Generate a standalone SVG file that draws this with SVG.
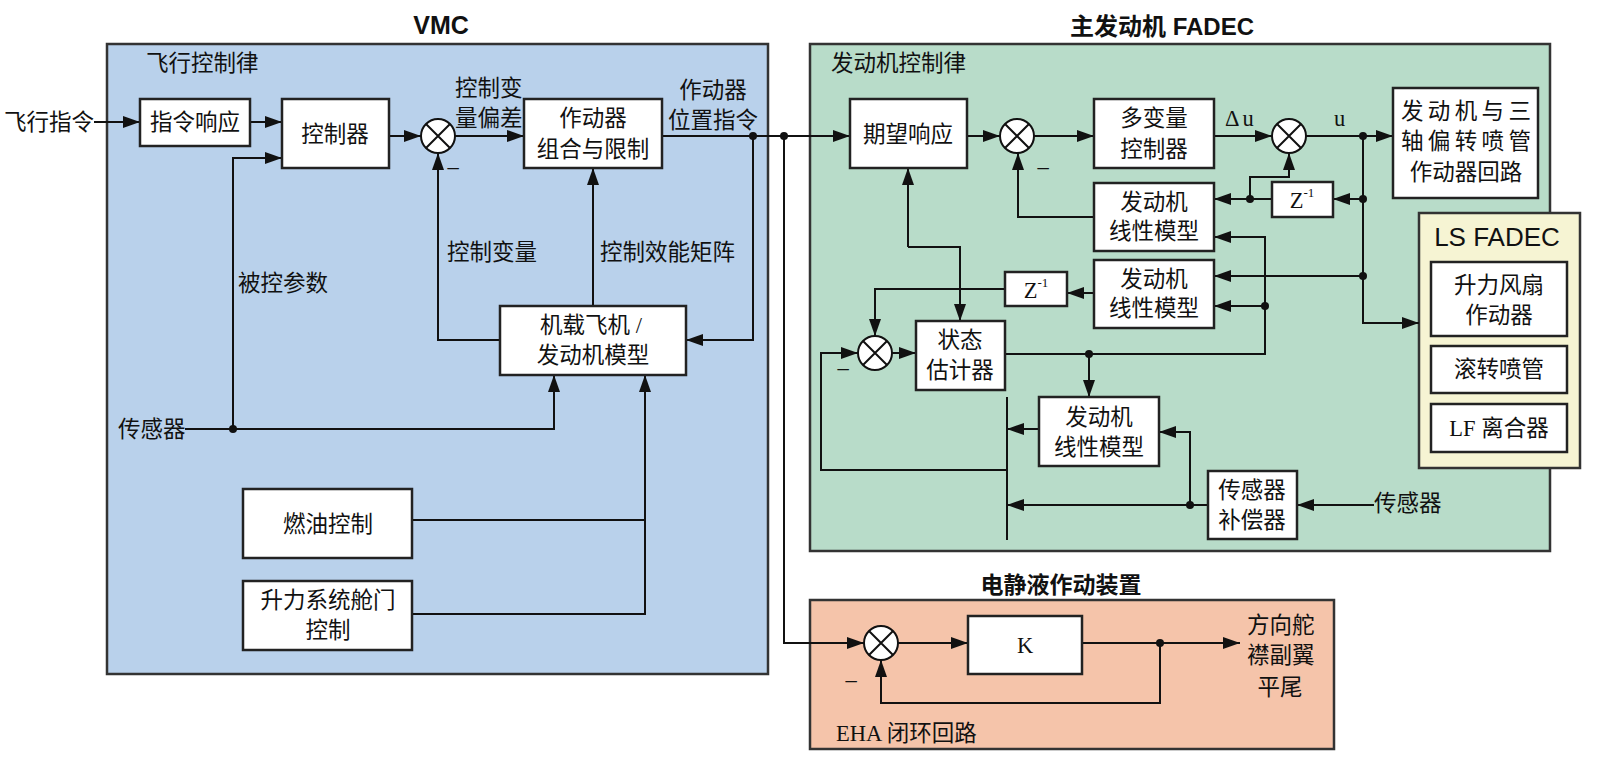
<svg xmlns="http://www.w3.org/2000/svg" width="1600" height="762" viewBox="0 0 1600 762">
<defs>
<marker id="a" viewBox="0 0 17 12" refX="17" refY="6" markerWidth="17" markerHeight="12" orient="auto" markerUnits="userSpaceOnUse"><path d="M0,0 L17,6 L0,12 z" fill="#111"/></marker>
<style>
.t{font-family:"Liberation Serif","Noto Sans CJK SC",serif;font-size:22.5px;fill:#111;dominant-baseline:central}
.m{text-anchor:middle}
.h{font-family:"Liberation Sans","Noto Sans CJK SC",sans-serif;font-weight:bold;fill:#111;text-anchor:middle;dominant-baseline:central}
.box{fill:#fff;stroke:#222;stroke-width:2.5}
.c{fill:none;stroke:#111;stroke-width:2}
.ar{fill:none;stroke:#111;stroke-width:2;marker-end:url(#a)}
.dot{fill:#111}
.sum{fill:#fff;stroke:#111;stroke-width:2}
</style>
</defs>
<rect width="1600" height="762" fill="#fff"/>

<!-- containers -->
<g id="vmc">
<rect x="107" y="44" width="661" height="630" fill="#b9d1eb" stroke="#333" stroke-width="2.5"/>
<text class="h" x="441" y="25" font-size="25">VMC</text>
<text class="t" x="146" y="63">飞行控制律</text>
</g>
<g id="fadec">
<rect x="810" y="44" width="740" height="507" fill="#b8dcc9" stroke="#333" stroke-width="2.5"/>
<text class="h" x="1162" y="26" font-size="24">主发动机 FADEC</text>
<text class="t" x="831" y="63">发动机控制律</text>
</g>
<g id="lsfadec">
<rect x="1419" y="213" width="161" height="255" fill="#f6f4d3" stroke="#333" stroke-width="2.5"/>
<text x="1497" y="237" font-family="Liberation Sans, sans-serif" font-size="26" fill="#111" text-anchor="middle" dominant-baseline="central">LS FADEC</text>
</g>
<g id="eha">
<rect x="810" y="600" width="524" height="149" fill="#f5c4aa" stroke="#333" stroke-width="2.5"/>
<text class="h" x="1061" y="585" font-size="23">电静液作动装置</text>
<text class="t" x="836" y="733">EHA 闭环回路</text>
</g>

<!-- connectors -->
<g id="connectors">
<path class="ar" d="M94,122 H140"/>
<path class="ar" d="M250,122 H282"/>
<path class="ar" d="M233,429 V158 H282"/>
<path class="ar" d="M389,136 H421"/>
<path class="ar" d="M455,136 H524"/>
<path class="ar" d="M662,136 H850"/>
<path class="ar" d="M753,136 V340 H686"/>
<path class="ar" d="M500,340 H438 V153"/>
<path class="ar" d="M593,306 V168"/>
<path class="ar" d="M185,429 H554 V375"/>
<path class="c" d="M412,520 H645"/>
<path class="ar" d="M412,614 H645 V375"/>
<path class="ar" d="M784,136 V643 H864"/>

<path class="ar" d="M967,136 H1000"/>
<path class="ar" d="M1034,136 H1094"/>
<path class="ar" d="M1214,136 H1272"/>
<path class="ar" d="M1306,136 H1393"/>
<path class="ar" d="M1363,136 V323 H1419"/>
<path class="ar" d="M1363,199 H1333"/>
<path class="ar" d="M1272,199 H1214"/>
<path class="ar" d="M1250,199 V177 H1289 V153"/>
<path class="ar" d="M1094,217 H1018 V153"/>
<path class="ar" d="M1363,276 H1214"/>
<path class="ar" d="M1005,354 H1265 V237 H1214"/>
<path class="ar" d="M1265,306 H1214"/>
<path class="ar" d="M1094,293 H1067"/>
<path class="ar" d="M1005,289 H875 V336"/>
<path class="ar" d="M892,353 H916"/>
<path class="ar" d="M908,247 V168"/>
<path class="ar" d="M908,247 H960 V321"/>
<path class="ar" d="M1089,354 V397"/>
<path class="ar" d="M1039,429 H1007"/>
<path class="c" d="M1007,397 V540"/>
<path class="ar" d="M1007,470 H821 V353 H858"/>
<path class="ar" d="M1208,505 H1007"/>
<path class="ar" d="M1190,505 V432 H1159"/>
<path class="ar" d="M1374,505 H1297"/>

<path class="ar" d="M898,643 H968"/>
<path class="ar" d="M1082,643 H1240"/>
<path class="ar" d="M1160,643 V703 H881 V660"/>

<circle class="dot" cx="753" cy="136" r="4"/>
<circle class="dot" cx="784" cy="136" r="4"/>
<circle class="dot" cx="233" cy="429" r="4"/>
<circle class="dot" cx="1363" cy="136" r="4"/>
<circle class="dot" cx="1363" cy="199" r="4"/>
<circle class="dot" cx="1363" cy="276" r="4"/>
<circle class="dot" cx="1250" cy="199" r="4"/>
<circle class="dot" cx="1265" cy="306" r="4"/>
<circle class="dot" cx="1089" cy="354" r="4"/>
<circle class="dot" cx="1190" cy="505" r="4"/>
<circle class="dot" cx="1160" cy="643" r="4"/>

<text class="t" x="94" y="122" text-anchor="end">飞行指令</text>
<text class="t" x="455" y="88">控制变</text>
<text class="t" x="455" y="118">量偏差</text>
<text class="t m" x="713" y="90">作动器</text>
<text class="t m" x="713" y="120">位置指令</text>
<text class="t" x="238" y="283">被控参数</text>
<text class="t" x="447" y="252">控制变量</text>
<text class="t" x="600" y="252">控制效能矩阵</text>
<text class="t" x="118" y="429">传感器</text>
<text class="t" x="1225" y="118" letter-spacing="3">Δu</text>
<text class="t" x="1334" y="118">u</text>
<text class="t" x="1374" y="503">传感器</text>
<text class="t" x="1247" y="625">方向舵</text>
<text class="t" x="1247" y="655">襟副翼</text>
<text class="t m" x="1280" y="687">平尾</text>
<text class="t m" x="453" y="166">–</text>
<text class="t m" x="1043" y="166">–</text>
<text class="t m" x="843" y="367">–</text>
<text class="t m" x="851" y="679">–</text>
</g>

<!-- sum junctions -->
<g id="sum1"><circle class="sum" cx="438" cy="136" r="17"/><path class="c" d="M426,124 L450,148 M450,124 L426,148"/></g>
<g id="sum2"><circle class="sum" cx="1017" cy="136" r="17"/><path class="c" d="M1005,124 L1029,148 M1029,124 L1005,148"/></g>
<g id="sum3"><circle class="sum" cx="1289" cy="136" r="17"/><path class="c" d="M1277,124 L1301,148 M1301,124 L1277,148"/></g>
<g id="sum4"><circle class="sum" cx="875" cy="353" r="17"/><path class="c" d="M863,341 L887,365 M887,341 L863,365"/></g>
<g id="sum5"><circle class="sum" cx="881" cy="643" r="17"/><path class="c" d="M869,631 L893,655 M893,631 L869,655"/></g>

<!-- VMC nodes -->
<g id="cmdresp"><rect class="box" x="140" y="99" width="110" height="47"/><text class="t m" x="195" y="122">指令响应</text></g>
<g id="controller"><rect class="box" x="282" y="99" width="107" height="69"/><text class="t m" x="335" y="134">控制器</text></g>
<g id="actcomb"><rect class="box" x="524" y="99" width="138" height="69"/><text class="t m" x="593" y="118">作动器</text><text class="t m" x="593" y="149">组合与限制</text></g>
<g id="onboard"><rect class="box" x="500" y="306" width="186" height="69"/><text class="t m" x="591" y="325">机载飞机 /</text><text class="t m" x="593" y="355">发动机模型</text></g>
<g id="fuel"><rect class="box" x="243" y="489" width="169" height="69"/><text class="t m" x="328" y="524">燃油控制</text></g>
<g id="liftdoor"><rect class="box" x="243" y="581" width="169" height="69"/><text class="t m" x="328" y="600">升力系统舱门</text><text class="t m" x="328" y="630">控制</text></g>

<!-- FADEC nodes -->
<g id="desired"><rect class="box" x="850" y="99" width="117" height="69"/><text class="t m" x="908" y="134">期望响应</text></g>
<g id="mvctrl"><rect class="box" x="1094" y="99" width="120" height="69"/><text class="t m" x="1154" y="118">多变量</text><text class="t m" x="1154" y="149">控制器</text></g>
<g id="engact"><rect class="box" x="1393" y="88" width="145" height="110"/><text class="t m" x="1466" y="111" textLength="130">发动机与三</text><text class="t m" x="1466" y="141" textLength="130">轴偏转喷管</text><text class="t m" x="1466" y="172">作动器回路</text></g>
<g id="z1"><rect class="box" x="1272" y="182" width="61" height="35"/><text class="t m" x="1302" y="200">Z<tspan font-size="13" dy="-8">-1</tspan></text></g>
<g id="lin1"><rect class="box" x="1094" y="183" width="120" height="68"/><text class="t m" x="1154" y="202">发动机</text><text class="t m" x="1154" y="231">线性模型</text></g>
<g id="lin2"><rect class="box" x="1094" y="260" width="120" height="68"/><text class="t m" x="1154" y="279">发动机</text><text class="t m" x="1154" y="308">线性模型</text></g>
<g id="z2"><rect class="box" x="1005" y="272" width="62" height="34"/><text class="t m" x="1036" y="290">Z<tspan font-size="13" dy="-8">-1</tspan></text></g>
<g id="estimator"><rect class="box" x="916" y="321" width="89" height="69"/><text class="t m" x="960" y="340">状态</text><text class="t m" x="960" y="370">估计器</text></g>
<g id="lin3"><rect class="box" x="1039" y="397" width="120" height="69"/><text class="t m" x="1099" y="417">发动机</text><text class="t m" x="1099" y="447">线性模型</text></g>
<g id="senscomp"><rect class="box" x="1208" y="471" width="89" height="68"/><text class="t m" x="1252" y="490">传感器</text><text class="t m" x="1252" y="520">补偿器</text></g>

<!-- LS FADEC nodes -->
<g id="liftfan"><rect class="box" x="1431" y="262" width="136" height="74"/><text class="t m" x="1499" y="285">升力风扇</text><text class="t m" x="1499" y="315">作动器</text></g>
<g id="rollnozzle"><rect class="box" x="1431" y="346" width="136" height="47"/><text class="t m" x="1499" y="369">滚转喷管</text></g>
<g id="lfclutch"><rect class="box" x="1431" y="404" width="136" height="48"/><text class="t m" x="1499" y="428">LF 离合器</text></g>

<!-- EHA nodes -->
<g id="k"><rect class="box" x="968" y="616" width="114" height="58"/><text class="t m" x="1025" y="645" font-size="24">K</text></g>
</svg>
